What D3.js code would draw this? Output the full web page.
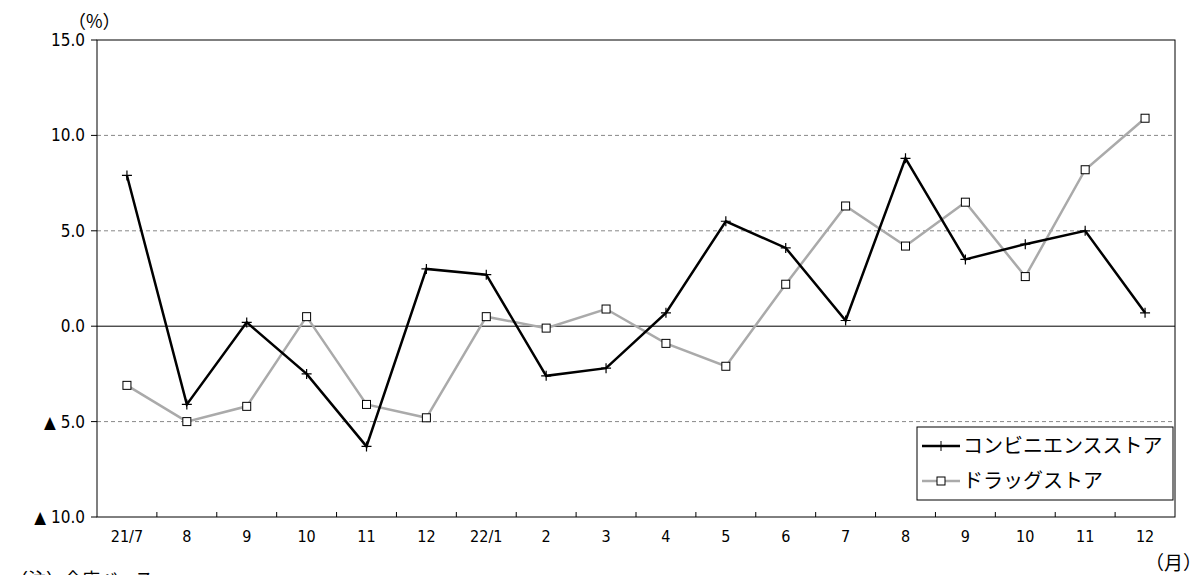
<!DOCTYPE html>
<html><head><meta charset="utf-8">
<script src="https://cdn.jsdelivr.net/npm/d3@7"></script>
<style>body{margin:0;background:#fff}text{font-family:"Noto Sans CJK JP","DejaVu Sans",sans-serif;fill:#000}.num{font-family:"DejaVu Sans Condensed","DejaVu Sans",sans-serif}</style>
</head><body><svg id="c" width="1204" height="575"></svg>
<script>
var months = ["21/7","8","9","10","11","12","22/1","2","3","4","5","6","7","8","9","10","11","12"];
var conv = [7.9,-4.1,0.2,-2.5,-6.3,3.0,2.7,-2.6,-2.2,0.7,5.5,4.1,0.3,8.8,3.5,4.3,5.0,0.7];
var drug = [-3.1,-5.0,-4.2,0.5,-4.1,-4.8,0.5,-0.1,0.9,-0.9,-2.1,2.2,6.3,4.2,6.5,2.6,8.2,10.9];
var yTicks = [-10,-5,0,5,10,15];

var svg = d3.select("#c");
var L = 97, R = 1175, T = 40, B = 517;
var x = d3.scaleBand().domain(d3.range(months.length)).range([L, R]);
var y = d3.scaleLinear().domain([-10, 15]).range([B, T]);
var cx = function (i) { return x(i) + x.bandwidth() / 2; };

svg.selectAll(".grid").data([-5, 5, 10]).enter().append("line")
	.attr("x1", L).attr("x2", R).attr("y1", y).attr("y2", y)
	.attr("stroke", "#888").attr("stroke-dasharray", "4,3");
svg.append("line").attr("x1", L).attr("x2", R).attr("y1", y(0)).attr("y2", y(0)).attr("stroke", "#000");
svg.append("rect").attr("x", L).attr("y", T).attr("width", R - L).attr("height", B - T)
	.attr("fill", "none").attr("stroke", "#000");

svg.selectAll(".yt").data(yTicks).enter().append("line")
	.attr("x1", L - 6).attr("x2", L).attr("y1", y).attr("y2", y).attr("stroke", "#000");
svg.selectAll(".yl").data(yTicks).enter().append("text").attr("class", "num")
	.attr("x", L - 12).attr("y", function (d) { return y(d) + 6; })
	.attr("text-anchor", "end").attr("font-size", 17)
	.text(function (d) { return (d < 0 ? "▲ " : "") + Math.abs(d).toFixed(1); });

svg.selectAll(".xt").data(d3.range(1, months.length)).enter().append("line")
	.attr("x1", function (i) { return x(i); }).attr("x2", function (i) { return x(i); })
	.attr("y1", B).attr("y2", B - 5).attr("stroke", "#000");
svg.selectAll(".xl").data(months).enter().append("text").attr("class", "num")
	.attr("x", function (d, i) { return cx(i); }).attr("y", B + 25)
	.attr("text-anchor", "middle").attr("font-size", 16).text(function (d) { return d; });

svg.append("text").attr("x", 68).attr("y", 28).attr("font-size", 18).text("（%）");
svg.append("text").attr("x", 1145).attr("y", 570).attr("font-size", 19).text("（月）");
svg.append("text").attr("x", 10).attr("y", 586).attr("font-size", 18).text("（注）全店ベース");

var line = d3.line().x(function (d, i) { return cx(i); }).y(function (d) { return y(d); });
svg.append("path").datum(drug).attr("d", line).attr("fill", "none").attr("stroke", "#aaa").attr("stroke-width", 2.5);
svg.selectAll(".dp").data(drug).enter().append("rect")
	.attr("x", function (d, i) { return cx(i) - 4; }).attr("y", function (d) { return y(d) - 4; })
	.attr("width", 8).attr("height", 8).attr("fill", "#fff").attr("stroke", "#000");
svg.append("path").datum(conv).attr("d", line).attr("fill", "none").attr("stroke", "#000").attr("stroke-width", 2.5);
svg.selectAll(".cp").data(conv).enter().append("path")
	.attr("d", function (d, i) { var a = cx(i), b = y(d); return "M" + (a - 5) + "," + b + "H" + (a + 5) + "M" + a + "," + (b - 5) + "V" + (b + 5); })
	.attr("stroke", "#000").attr("stroke-width", 1.2);

var lg = svg.append("g");
lg.append("rect").attr("x", 917).attr("y", 427).attr("width", 256).attr("height", 73)
	.attr("fill", "#fff").attr("stroke", "#000");
lg.append("line").attr("x1", 922).attr("x2", 960).attr("y1", 446).attr("y2", 446).attr("stroke", "#000").attr("stroke-width", 2.5);
lg.append("path").attr("d", "M936,446H946M941,441V451").attr("stroke", "#000");
lg.append("text").attr("x", 963).attr("y", 453).attr("font-size", 20).text("コンビニエンスストア");
lg.append("line").attr("x1", 922).attr("x2", 960).attr("y1", 481).attr("y2", 481).attr("stroke", "#aaa").attr("stroke-width", 2.5);
lg.append("rect").attr("x", 937).attr("y", 477).attr("width", 8).attr("height", 8).attr("fill", "#fff").attr("stroke", "#000");
lg.append("text").attr("x", 963).attr("y", 488).attr("font-size", 20).text("ドラッグストア");
</script></body></html>
